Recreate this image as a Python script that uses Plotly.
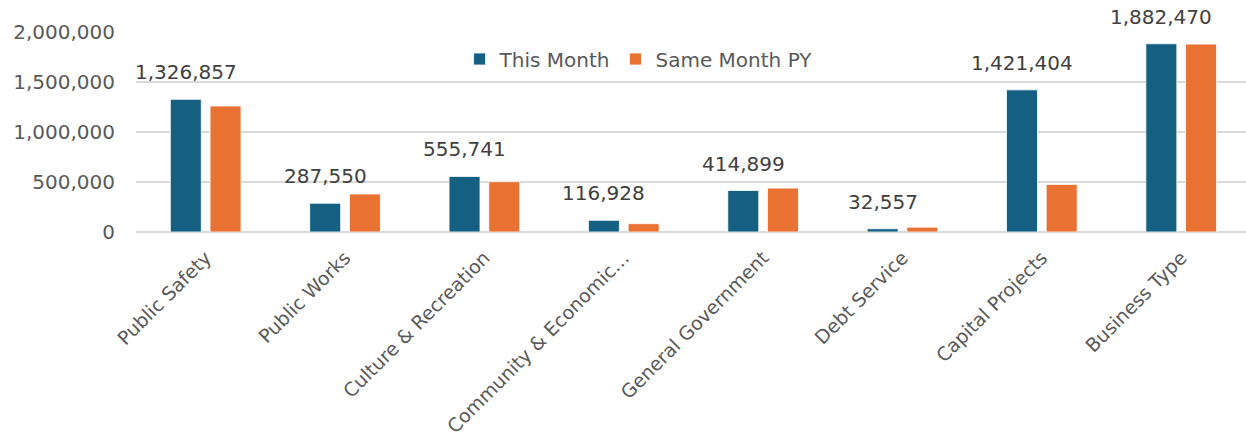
import plotly.graph_objects as go

# Spending by function: current month vs same month of prior year
categories = [
    "Public Safety",
    "Public Works",
    "Culture & Recreation",
    "Community & Economic…",
    "General Government",
    "Debt Service",
    "Capital Projects",
    "Business Type",
]
this_month = [1326857, 287550, 555741, 116928, 414899, 32557, 1421404, 1882470]
same_month_py = [1260000, 380000, 503000, 83000, 439000, 48000, 476000, 1879000]
y_tick_values = [0, 500000, 1000000, 1500000, 2000000]

BLUE = "#156082"
ORANGE = "#E97132"
AXIS_TEXT = "#595959"
LABEL_TEXT = "#404040"
GRID = "#D9D9D9"
FONT = "DejaVu Sans"
SIZE = 20

fig = go.Figure()
fig.add_trace(go.Bar(
    name="This Month", x=categories, y=this_month,
    marker=dict(color=BLUE, line=dict(color="white", width=0.8)),
))
fig.add_trace(go.Bar(
    name="Same Month PY", x=categories, y=same_month_py,
    marker=dict(color=ORANGE, line=dict(color="white", width=0.8)),
))

# value labels above the "This Month" bars
for cat, val in zip(categories, this_month):
    fig.add_annotation(
        x=cat, y=val, xref="x", yref="y",
        text=f"{val:,}", showarrow=False,
        xshift=-19.85, yanchor="bottom", yshift=13,
        font=dict(family=FONT, size=SIZE, color=LABEL_TEXT),
    )

fig.update_layout(
    width=1246, height=438, autosize=False,
    margin=dict(l=136, r=0, t=32, b=206),
    paper_bgcolor="white", plot_bgcolor="white",
    barmode="group", bargap=0.43, bargroupgap=0.22,
    font=dict(family=FONT, size=SIZE, color=AXIS_TEXT),
    legend=dict(
        orientation="h", x=0.2915, xanchor="left", y=0.865, yanchor="middle",
        bgcolor="rgba(0,0,0,0)", font=dict(family=FONT, size=SIZE, color=AXIS_TEXT),
    ),
    showlegend=True,
)
fig.update_xaxes(
    type="category", range=[-0.5, 7.465], automargin=False,
    tickangle=-45, showgrid=False, showline=False, ticks="",
    ticklabelstandoff=10,
    tickfont=dict(family=FONT, size=19, color=AXIS_TEXT),
)
fig.update_yaxes(
    range=[0, 2000000], tickvals=y_tick_values, tickformat=",", automargin=False,
    showgrid=True, gridcolor=GRID, gridwidth=1.5,
    zeroline=True, zerolinecolor=GRID, zerolinewidth=1.5,
    showline=False, ticks="", ticklabelstandoff=20,
    tickfont=dict(family=FONT, size=SIZE, color=AXIS_TEXT),
)

fig.write_html("out.html")
